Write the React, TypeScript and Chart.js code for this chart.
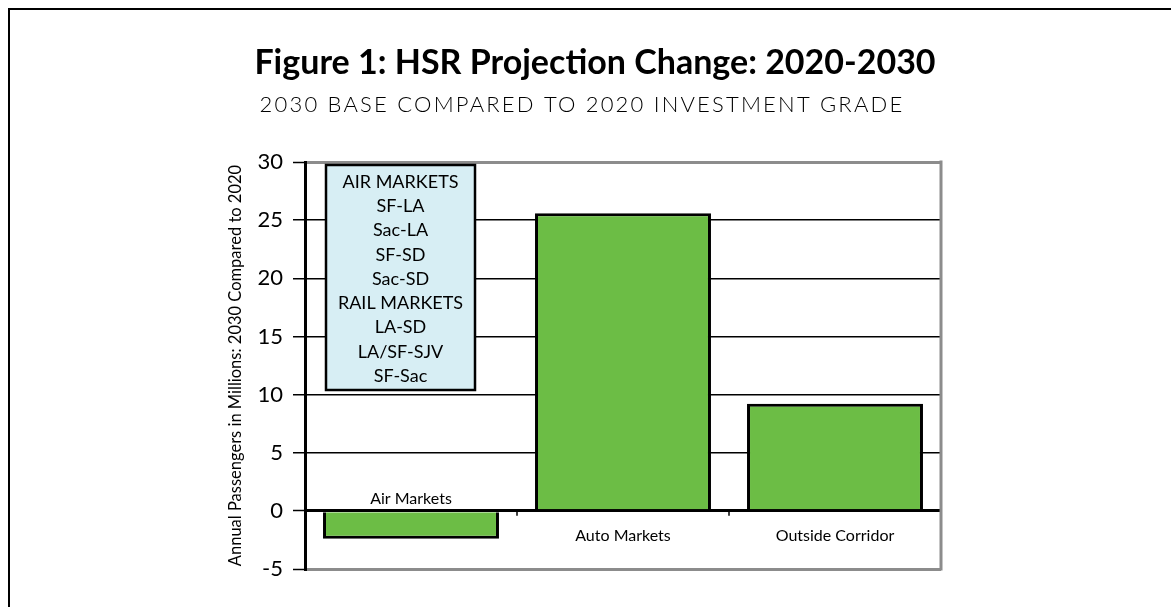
import React, { useEffect, useRef } from "react";
import { Chart, registerables } from "chart.js";

Chart.register(...registerables);

const categories = ["Air Markets", "Auto Markets", "Outside Corridor"];
const changeValues = [-2.4, 25.6, 9.2];
const yMin = -5;
const yMax = 30;
const yStep = 5;
const legendLines = [
  "AIR MARKETS",
  "SF-LA",
  "Sac-LA",
  "SF-SD",
  "Sac-SD",
  "RAIL MARKETS",
  "LA-SD",
  "LA/SF-SJV",
  "SF-Sac",
];
const titleText = "Figure 1: HSR Projection Change: 2020-2030";
const subtitleText = "2030 BASE COMPARED TO 2020 INVESTMENT GRADE";
const yAxisTitle = "Annual Passengers in Millions: 2030 Compared to 2020";

const FONT = "Lato, 'Open Sans', sans-serif";
const BAR_GREEN = "#6cbd45";

const decorPlugin = {
  id: "decor",
  beforeDraw(chart: any) {
    const { ctx, width, height } = chart;
    ctx.save();
    ctx.fillStyle = "#ffffff";
    ctx.fillRect(0, 0, width, height);
    // page frame
    ctx.strokeStyle = "#000";
    ctx.lineWidth = 2;
    ctx.beginPath();
    ctx.moveTo(9, height);
    ctx.lineTo(9, 9);
    ctx.lineTo(width, 9);
    ctx.stroke();
    ctx.restore();
  },
  afterDraw(chart: any) {
    const { ctx, chartArea } = chart;
    const xs = chart.scales.x;
    const ys = chart.scales.y;
    const zeroY = ys.getPixelForValue(0);
    ctx.save();

    // right plot border (grey)
    ctx.strokeStyle = "#8c8c8c";
    ctx.lineWidth = 3;
    ctx.beginPath();
    ctx.moveTo(chartArea.right, chartArea.top - 1.5);
    ctx.lineTo(chartArea.right, chartArea.bottom + 1.5);
    ctx.stroke();

    // category tick marks on the zero line
    ctx.strokeStyle = "#000";
    ctx.lineWidth = 1.5;
    for (let i = 0; i < categories.length - 1; i++) {
      const bx = (xs.getPixelForValue(i) + xs.getPixelForValue(i + 1)) / 2;
      ctx.beginPath();
      ctx.moveTo(bx, zeroY);
      ctx.lineTo(bx, zeroY + 5);
      ctx.stroke();
    }

    // category labels
    ctx.fillStyle = "#000";
    ctx.font = `16px ${FONT}`;
    ctx.textAlign = "center";
    ctx.textBaseline = "middle";
    categories.forEach((c, i) => {
      const px = xs.getPixelForValue(i);
      const py = changeValues[i] < 0 ? zeroY - 12 : zeroY + 25;
      ctx.fillText(c, px, py);
    });

    // text box with markets
    const bx = chartArea.left + 21;
    const by = chartArea.top + 3;
    const bw = 149;
    const bh = 225;
    ctx.fillStyle = "#d7eef4";
    ctx.fillRect(bx, by, bw, bh);
    ctx.strokeStyle = "#000";
    ctx.lineWidth = 2.5;
    ctx.strokeRect(bx, by, bw, bh);
    ctx.fillStyle = "#000";
    ctx.font = `18px ${FONT}`;
    legendLines.forEach((t, i) => {
      ctx.fillText(t, bx + bw / 2, by + 17 + i * 24.25);
    });

    // y axis title
    ctx.save();
    ctx.translate(236, (chartArea.top + chartArea.bottom) / 2);
    ctx.rotate(-Math.PI / 2);
    ctx.font = `16.5px ${FONT}`;
    ctx.fillText(yAxisTitle, 0, 0);
    ctx.restore();

    // title & subtitle
    ctx.font = `bold 34px ${FONT}`;
    ctx.textBaseline = "alphabetic";
    ctx.fillText(titleText, 595, 74);
    ctx.font = `300 22px ${FONT}`;
    (ctx as any).letterSpacing = "2.2px";
    ctx.fillText(subtitleText, 582, 112);
    (ctx as any).letterSpacing = "0px";

    ctx.restore();
  },
};

export default function App() {
  const canvasRef = useRef<HTMLCanvasElement | null>(null);

  useEffect(() => {
    const canvas = canvasRef.current;
    if (!canvas) return;
    const chart = new Chart(canvas, {
      type: "bar",
      data: {
        labels: categories,
        datasets: [
          {
            label: "Change",
            data: changeValues,
            backgroundColor: BAR_GREEN,
            borderColor: "#000",
            borderWidth: 3,
            barPercentage: 0.83,
            categoryPercentage: 1,
          },
        ],
      },
      options: {
        responsive: false,
        animation: false,
        devicePixelRatio: 1,
        layout: { padding: { left: 200, top: 162, right: 230, bottom: 38 } },
        plugins: {
          legend: { display: false },
          title: { display: false },
          tooltip: { enabled: false },
        },
        scales: {
          x: { display: false },
          y: {
            min: yMin,
            max: yMax,
            afterFit: (s: any) => {
              s.width = 105;
            },
            ticks: {
              stepSize: yStep,
              padding: 10,
              color: "#000",
              font: { family: FONT, size: 22 },
            },
            grid: {
              color: (c: any) => {
                const v = c.tick ? c.tick.value : null;
                if (v === yMin || v === yMax) return "#8c8c8c";
                return "#000";
              },
              lineWidth: (c: any) => {
                const v = c.tick ? c.tick.value : null;
                if (v === yMin || v === yMax || v === 0) return 3;
                return 1.5;
              },
              tickColor: "#000",
              tickWidth: 1.5,
              tickLength: 12,
            },
            border: { color: "#000", width: 3 },
          },
        },
      },
      plugins: [decorPlugin],
    });
    return () => chart.destroy();
  }, []);

  return (
    <div style={{ position: "fixed", left: 0, top: 0, width: 1171, height: 607 }}>
      <canvas ref={canvasRef} width={1171} height={607} style={{ display: "block" }} />
    </div>
  );
}
